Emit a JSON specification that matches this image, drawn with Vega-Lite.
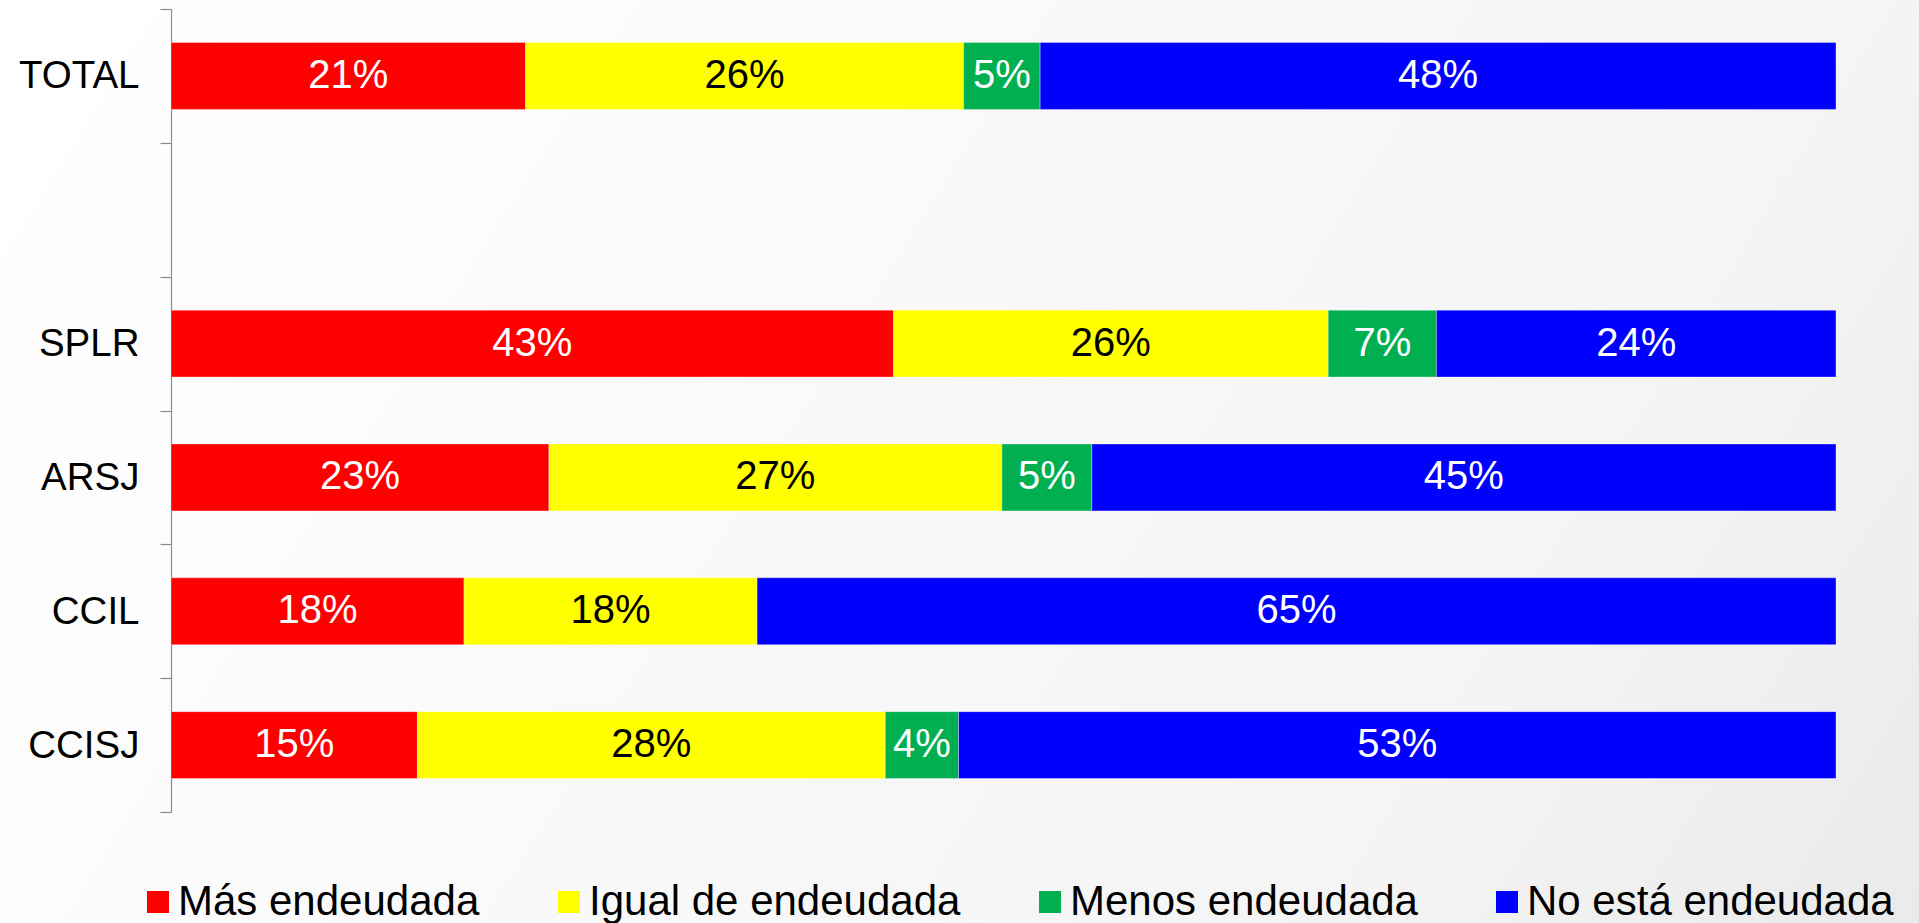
{
  "$schema": "https://vega.github.io/schema/vega-lite/v6.json",
  "width": 1919,
  "height": 923,
  "autosize": {"type": "none"},
  "padding": 0,
  "background": "#ffffff",
  "config": {
    "font": "Liberation Sans",
    "view": {
      "stroke": null,
      "fill": {"gradient": "linear", "x1": 0, "y1": 0, "x2": 1.193, "y2": 0.358,
        "stops": [
          {"offset": 0, "color": "#ffffff"},
          {"offset": 0.231, "color": "#fcfcfc"},
          {"offset": 0.769, "color": "#f4f4f4"},
          {"offset": 1, "color": "#eaeaea"}
        ]}
    }
  },
  "data": {
    "values": [
      {"cat": "TOTAL", "s": "Más endeudada", "n": 1, "v": 0.213},
      {"cat": "TOTAL", "s": "Igual de endeudada", "n": 2, "v": 0.263},
      {"cat": "TOTAL", "s": "Menos endeudada", "n": 3, "v": 0.046},
      {"cat": "TOTAL", "s": "No está endeudada", "n": 4, "v": 0.478},
      {"cat": "SPLR", "s": "Más endeudada", "n": 1, "v": 0.434},
      {"cat": "SPLR", "s": "Igual de endeudada", "n": 2, "v": 0.261},
      {"cat": "SPLR", "s": "Menos endeudada", "n": 3, "v": 0.065},
      {"cat": "SPLR", "s": "No está endeudada", "n": 4, "v": 0.24},
      {"cat": "ARSJ", "s": "Más endeudada", "n": 1, "v": 0.227},
      {"cat": "ARSJ", "s": "Igual de endeudada", "n": 2, "v": 0.272},
      {"cat": "ARSJ", "s": "Menos endeudada", "n": 3, "v": 0.054},
      {"cat": "ARSJ", "s": "No está endeudada", "n": 4, "v": 0.447},
      {"cat": "CCIL", "s": "Más endeudada", "n": 1, "v": 0.176},
      {"cat": "CCIL", "s": "Igual de endeudada", "n": 2, "v": 0.176},
      {"cat": "CCIL", "s": "No está endeudada", "n": 4, "v": 0.648},
      {"cat": "CCISJ", "s": "Más endeudada", "n": 1, "v": 0.148},
      {"cat": "CCISJ", "s": "Igual de endeudada", "n": 2, "v": 0.281},
      {"cat": "CCISJ", "s": "Menos endeudada", "n": 3, "v": 0.044},
      {"cat": "CCISJ", "s": "No está endeudada", "n": 4, "v": 0.527}
    ]
  },
  "transform": [
    {"stack": "v", "groupby": ["cat"], "sort": [{"field": "n", "order": "ascending"}], "offset": "normalize", "as": ["v0", "v1"]},
    {"calculate": "(datum.v0 + datum.v1) / 2", "as": "mid"}
  ],
  "encoding": {
    "y": {
      "field": "cat", "type": "nominal",
      "scale": {"domain": ["TOTAL", " ", "SPLR", "ARSJ", "CCIL", "CCISJ"], "range": [9, 812], "paddingInner": 0, "paddingOuter": 0},
      "axis": {
        "title": null, "grid": false, "offset": -171, "domainColor": "#8c8c8c", "domainWidth": 1.2,
        "tickColor": "#8c8c8c", "tickWidth": 1.2, "tickSize": 11, "tickBand": "extent",
        "labelFontSize": 38.5, "labelColor": "#000000", "labelPadding": 21, "labelFont": "Liberation Sans"
      }
    }
  },
  "layer": [
    {
      "mark": {"type": "bar", "height": {"band": 0.5}, "stroke": "#ffffff", "strokeWidth": 1, "strokeOpacity": 0.35},
      "encoding": {
        "x": {"field": "v0", "type": "quantitative", "scale": {"domain": [0, 1], "range": [171, 1836], "nice": false}, "axis": null},
        "x2": {"field": "v1"},
        "color": {
          "field": "s", "type": "nominal",
          "scale": {
            "domain": ["Más endeudada", "Igual de endeudada", "Menos endeudada", "No está endeudada"],
            "range": ["#ff0000", "#ffff00", "#00b050", "#0000ff"]
          },
          "legend": {
            "orient": "none", "legendX": 137, "legendY": 881, "direction": "horizontal", "columns": 4,
            "title": null, "symbolType": "square", "symbolSize": 484, "symbolStrokeWidth": 0, "symbolOpacity": 1,
            "labelFontSize": 42, "labelColor": "#000000", "labelOffset": -1, "columnPadding": 68, "labelLimit": 0,
            "labelFont": "Liberation Sans"
          }
        }
      }
    },
    {
      "mark": {"type": "text", "fontSize": 40, "align": "center", "baseline": "middle", "font": "Liberation Sans"},
      "encoding": {
        "x": {"field": "mid", "type": "quantitative"},
        "text": {"field": "v", "type": "quantitative", "format": ".0%"},
        "color": {"condition": {"test": "datum.s === 'Igual de endeudada'", "value": "#000000"}, "value": "#ffffff"}
      }
    }
  ]
}
